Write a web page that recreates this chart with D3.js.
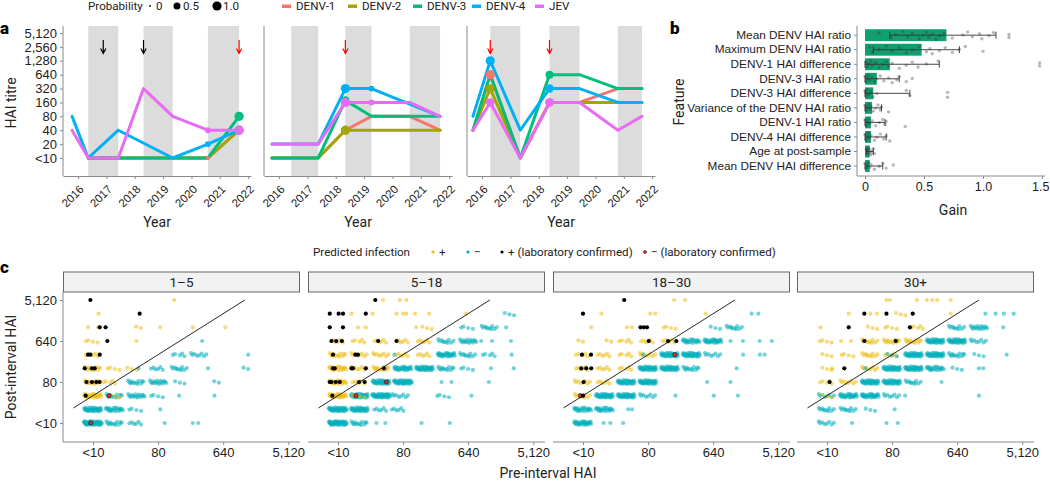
<!DOCTYPE html>
<html>
<head>
<meta charset="utf-8">
<script src="https://cdn.jsdelivr.net/npm/d3@7"></script>
<style>
  body { margin: 0; background: #fff; }
  svg { font-family: Roboto, "Liberation Sans", Arial, sans-serif; }
</style>
</head>
<body>
<div id="chart"></div>
<script>
// ---------- data ----------
var serotypes = ["DENV-1", "DENV-2", "DENV-3", "DENV-4", "JEV"];
var serotypeColors = ["#F8766D", "#A3A500", "#00BF7D", "#00B0F6", "#E76BF3"];
var titreLabels = ["<10", "20", "40", "80", "160", "320", "640", "1,280", "2,560", "5,120"];
var years = [2016, 2017, 2018, 2019, 2020, 2021, 2022];

// panel a: sample dates for three participants
var sampleTimes = [
  [2015.79, 2016.36, 2017.42, 2018.31, 2019.34, 2020.58, 2021.68],
  [2015.75, 2016.43, 2017.38, 2018.34, 2019.26, 2020.61, 2021.68],
  [2015.68, 2016.29, 2017.35, 2018.38, 2019.44, 2020.79, 2021.64]
];
// titre level (0 = <10, 1 = 20, ... 9 = 5,120) per serotype, null = not measured
var titresP1 = [
  [null, 0, 0, 0, 0, 0, 2],
  [null, 0, 0, 0, 0, 0, 2],
  [null, 0, 0, 0, 0, 0, 3],
  [3, 0, 2, null, 0, 1, 2],
  [2, 0, 0, 5, 3, 2, 2]
];
var titresP2 = [
  [0, 0, 0, 2, 3, 3, 2],
  [0, 0, 0, 2, 2, 2, 2],
  [0, 0, 0, 4.15, 3, 3, 3],
  [1, 1, 1, 5, 5, null, 3],
  [1, 1, 1, 4, 4, 4, 3]
];
var titresP3 = [
  [2, 6, 0, 4, 4, 5, 5],
  [2, 5, 0, 4, 4, 4, 4],
  [2, 6, 0, 6, 6, 5, 5],
  [3, 7, 2, 5, 5, 4, 4],
  [2, 4, 0, 4, 4, 2, 3]
];
var titres = [titresP1, titresP2, titresP3];
var infectionBands = [
  [[2016.36, 2017.42], [2018.31, 2019.34], [2020.58, 2021.68]],
  [[2016.43, 2017.38], [2018.34, 2019.26], [2020.61, 2021.68]],
  [[2016.29, 2017.35], [2018.38, 2019.44], [2020.79, 2021.64]]
];
// [participant, serotype, sample, probability]
var infectionProb = [
  [0, 0, 5, 0.1], [0, 3, 5, 0.3], [0, 4, 5, 0.3],
  [0, 1, 6, 0.6], [0, 2, 6, 1.0], [0, 3, 6, 1.0], [0, 4, 6, 1.0],
  [1, 0, 3, 0.8], [1, 1, 3, 1.0], [1, 2, 3, 0.7], [1, 3, 3, 1.0], [1, 4, 3, 1.0],
  [1, 3, 4, 0.3], [1, 4, 4, 0.3],
  [2, 2, 1, 0.8], [2, 1, 1, 0.9], [2, 0, 1, 1.0], [2, 3, 1, 1.0], [2, 4, 1, 0.8],
  [2, 0, 3, 0.6], [2, 2, 3, 0.7], [2, 3, 3, 0.8], [2, 4, 3, 0.9]
];
// [participant, date, laboratory confirmed]
var infectionArrows = [
  [0, 2016.89, false], [0, 2018.31, false], [0, 2021.68, true],
  [1, 2018.34, true],
  [2, 2016.29, true], [2, 2018.38, true]
];

// panel b: feature importance
var features = ["Mean DENV HAI ratio", "Maximum DENV HAI ratio", "DENV-1 HAI difference",
  "DENV-3 HAI ratio", "DENV-3 HAI difference", "Variance of the DENV HAI ratio",
  "DENV-1 HAI ratio", "DENV-4 HAI difference", "Age at post-sample", "Mean DENV HAI difference"];
var meanGain = [0.69, 0.48, 0.21, 0.10, 0.07, 0.06, 0.05, 0.05, 0.04, 0.04];
var gainLow = [0.21, 0.07, 0.0, 0.0, 0.0, 0.0, 0.0, 0.0, 0.01, 0.0];
var gainHigh = [1.11, 0.80, 0.63, 0.29, 0.38, 0.14, 0.17, 0.18, 0.07, 0.15];
var gainRuns = [
  [0.12, 0.22, 0.26, 0.32, 0.36, 0.40, 0.46, 0.49, 0.52, 0.54, 0.57, 0.60, 0.63, 0.67, 0.74, 0.83, 0.87, 0.91, 0.97, 0.99, 1.05, 1.09, 1.22, 1.22],
  [0.04, 0.06, 0.12, 0.18, 0.23, 0.29, 0.35, 0.40, 0.46, 0.52, 0.55, 0.57, 0.63, 0.68, 0.74, 0.80, 0.85, 1.0],
  [0.01, 0.02, 0.03, 0.05, 0.06, 0.09, 0.12, 0.15, 0.18, 0.20, 0.23, 0.29, 0.35, 0.40, 0.45, 0.52, 0.62, 1.48, 1.48],
  [0.0, 0.01, 0.02, 0.03, 0.04, 0.06, 0.08, 0.10, 0.13, 0.16, 0.20, 0.23, 0.27, 0.29, 0.35, 0.40],
  [0.0, 0.01, 0.01, 0.02, 0.03, 0.05, 0.07, 0.10, 0.35, 0.38, 0.70, 0.70],
  [0.0, 0.01, 0.02, 0.03, 0.04, 0.05, 0.07, 0.09, 0.11, 0.13, 0.14, 0.20],
  [0.0, 0.01, 0.02, 0.03, 0.04, 0.06, 0.09, 0.12, 0.15, 0.17, 0.18, 0.34],
  [0.0, 0.01, 0.02, 0.03, 0.04, 0.05, 0.08, 0.10, 0.13, 0.16, 0.18, 0.21],
  [0.01, 0.02, 0.02, 0.03, 0.04, 0.04, 0.05, 0.06, 0.07, 0.08],
  [0.0, 0.01, 0.02, 0.03, 0.04, 0.05, 0.08, 0.12, 0.15, 0.18, 0.24]
];

// panel c: pre/post HAI by age group
// [pre level, post level, count, class] class: 0 = +, 1 = -, 2 = + lab, 3 = - lab
var ageGroups = ["1\u20135", "5\u201318", "18\u201330", "30+"];
var haiTickLevels = [0, 3, 6, 9];
var haiTickLabels = ["<10", "80", "640", "5,120"];
var classLabels = ["+", "\u2212", "+ (laboratory confirmed)", "\u2212 (laboratory confirmed)"];
var classColors = ["#EDBD14", "#00AFBB", "#000000", "#D7301F"];

var age1to5 = [
  [0,0,40,1],[1,0,12,1],[2,0,6,1],[3.3,0,1,1],[4.6,0,1,1],[4.85,0,1,1],
  [0,1,30,1],[1,1,20,1],[2,1,4,1],[3.1,1,1,1],
  [0,2,25,0],[1,2,12,1],[1,2,3,0],[2,2,15,1],[3,2,4,1],[3.97,2,1,1],[5.6,2,1,1],
  [0,3,12,0],[0.8,3,5,0],[2,3,12,1],[3,3,15,1],[4,3,3,1],[5.8,3,2,1],
  [0,4,12,0],[1,4,4,0],[1.8,4,3,0],[2.1,4,1,1],[3,4,6,1],[4,4,10,1],[5.3,4,1,1],[7.15,4,2,1],
  [0,5,5,0],[4,5,5,1],[4.9,5,8,1],[7.15,5,1,1],
  [0,6,4,0],[2.0,6,1,0],[5.03,6,1,1],
  [-0.23,7,1,0],[0.23,7,1,0],[2.2,7,2,0],[3.1,7,1,0],[4.6,7,1,0],[6.1,7,1,0],
  [0.26,8,1,0],
  [3.74,9,1,0],
  [-0.1,0,1,3],[0.74,2,1,3],
  [-0.34,2,1,2],[-0.3,3,1,2],[-0.05,3,1,2],[0.15,3,1,2],[0.3,3,1,2],
  [-0.38,4,1,2],[-0.05,4,1,2],[0.08,4,1,2],
  [-0.23,5,1,2],[-0.12,5,1,2],[0.31,5,1,2],
  [0.66,6,1,2],[0.31,7,1,2],[0.58,7,1,2],[2.15,8,1,2],[-0.12,9,1,2]
];
var age5to18 = [
  [0,0,40,1],[1,0,12,1],[1.77,0,1,1],[2.18,0,1,1],[3.85,0,1,1],[5.15,0,1,1],
  [0,1,35,1],[1,1,30,1],[2,1,6,1],[2.8,1,6,1],
  [0,2,25,0],[1,2,30,1],[1,2,4,0],[2,2,35,1],[2.9,2,8,1],[4.9,2,4,1],[6.15,2,1,1],
  [0,3,20,0],[1,3,6,0],[2,3,30,1],[3,3,35,1],[4.77,3,1,1],[5.23,3,1,1],[6.95,3,1,1],
  [0,4,20,0],[1,4,8,0],[2,4,12,0],[3,4,25,1],[4,4,30,1],[5,4,12,1],[6,4,4,1],[7.05,4,1,1],[8.1,4,1,1],
  [0,5,12,0],[1,5,8,0],[2,5,8,0],[3,5,6,0],[2.6,5,1,1],[4,5,6,0],[5,5,25,1],[6,5,10,1],[7,5,5,1],[8,5,1,1],
  [0,6,6,0],[1,6,5,0],[2,6,6,0],[3,6,6,0],[4,6,6,0],[5,6,10,1],[6,6,15,1],[6.6,6,1,1],[7.1,6,1,1],[7.97,6,1,1],
  [0.92,7,1,0],[1.28,7,1,0],[3.6,7,1,0],[4.1,7,3,0],[6,7,4,1],[7,7,10,1],[7.75,7,1,1],
  [0.62,8,1,0],[1.6,8,1,0],[2.7,8,1,0],[3.0,8,1,0],[3.15,8,1,0],[3.55,8,1,0],[4.2,8,1,0],[5.9,8,1,0],[7.9,8,3,1],
  [2.08,9,1,0],[2.85,9,1,0],[3.15,9,1,0],
  [0.82,2,1,3],[2.23,3,1,3],
  [-0.26,2,1,2],[-0.38,3,1,2],[-0.3,3,1,2],[-0.1,3,1,2],[0.08,3,1,2],[0.97,3,1,2],[1.23,3,1,2],
  [-0.23,4,1,2],[-0.15,4,1,2],[0.62,4,1,2],[0.69,4,1,2],[1.28,4,1,2],[2.12,4,1,2],
  [-0.23,5,1,2],[0.8,5,1,2],[0.92,5,1,2],
  [-0.3,6,1,2],[-0.08,6,1,2],[0.18,6,1,2],[1.85,6,1,2],[2.7,6,1,2],
  [-0.38,7,1,2],[0.23,7,1,2],
  [-0.38,8,1,2],[0.03,8,1,2],[0.23,8,1,2],[1.28,8,1,2],
  [1.72,9,1,2]
];
var age18to30 = [
  [0,0,25,1],[0.95,0,1,1],[1.26,0,1,1],[1.85,0,1,1],
  [0,1,20,1],[1,1,20,1],[2.08,1,1,1],[2.26,1,1,1],
  [0,2,10,0],[1,2,30,1],[2,2,30,1],[3,2,8,1],[4.26,2,1,1],[6.03,2,1,1],[7.14,2,1,1],
  [0,3,8,0],[1,3,6,0],[2,3,30,1],[3,3,30,1],[5.72,3,1,1],[6.8,3,1,1],
  [0,4,6,0],[1,4,6,0],[2,4,5,0],[3,4,30,1],[4,4,30,1],[5,4,12,1],[7.08,4,1,1],
  [0,5,5,0],[1,5,6,0],[2,5,5,0],[3,5,8,0],[2.77,5,1,1],[4,5,30,1],[5,5,30,1],[6,5,8,1],[7.38,5,1,1],[8.15,5,1,1],[8.37,5,1,1],
  [0,6,2,0],[1.3,6,2,0],[2,6,5,0],[3,6,6,0],[4,6,6,0],[5,6,20,1],[6,6,25,1],[6.8,6,1,1],[7.37,6,1,1],[8.14,6,1,1],[8.7,6,1,1],
  [0.38,7,1,0],[2.03,7,1,0],[2.26,7,1,0],[4.05,7,4,0],[6.1,7,3,1],[7,7,10,1],
  [0.85,8,1,0],[3.1,8,1,0],[3.33,8,1,0],[5.65,8,1,0],[7.77,8,1,1],[8.08,8,1,1],
  [4.2,9,1,0],[4.7,9,1,0],
  [-0.12,2,1,3],[4.23,5,1,3],
  [0,2,1,2],[0.03,3,1,2],[-0.08,4,1,2],[0.15,4,1,2],[0.38,4,1,2],
  [-0.05,5,1,2],[0.37,5,1,2],[3.03,6,1,2],[3.92,6,1,2],[4.3,6,1,2],
  [2.65,7,1,2],[2.8,7,1,2],[2.95,7,1,2],[0,8,1,2],[1.9,9,1,2]
];
var age30plus = [
  [0,0,8,1],[1.15,0,1,1],[2.74,0,1,1],[3.26,0,1,1],
  [0,1,10,1],[1,1,10,1],[2,1,3,1],[3.12,1,1,1],
  [0,2,8,1],[0,2,3,0],[1,2,25,1],[2,2,25,1],[3,2,8,1],[3.6,2,1,1],[7.0,2,1,1],
  [0,3,5,0],[1,3,8,0],[2,3,30,1],[3,3,30,1],[4,3,10,1],[5.28,3,1,1],
  [0,4,3,0],[0.23,4,1,0],[2,4,8,0],[1.77,4,1,1],[3,4,30,1],[4,4,30,1],[5,4,20,1],[6,4,3,1],[7.0,4,1,1],[7.2,4,1,1],
  [0,5,3,0],[1,5,4,0],[2,5,10,0],[3,5,6,0],[3,5,3,1],[4,5,30,1],[5,5,30,1],[6,5,12,1],[7,5,3,1],[8.28,5,1,1],
  [0,6,4,0],[0.65,6,1,0],[1.1,6,1,0],[2,6,10,0],[3,6,12,0],[4,6,12,0],[5,6,30,1],[6,6,30,1],[7,6,8,1],
  [-0.3,7,1,0],[2.1,7,3,0],[3,7,4,0],[4.2,7,5,0],[6,7,10,1],[7,7,15,1],[8.12,7,1,1],
  [1.0,8,1,0],[2.0,8,1,0],[2.3,8,1,0],[3.4,8,3,0],[5.7,8,1,0],[7.3,8,1,1],[7.77,8,1,1],[8.15,8,1,1],[8.6,8,1,1],
  [2.74,9,1,0],[2.9,9,1,0],[4.15,9,1,0],[4.6,9,1,0],[4.85,9,1,0],[5.08,9,1,0],[5.7,9,1,0],
  [0.12,3,1,2],[0.8,4,1,2],[1.72,6,1,2],[3.17,6,1,2],[1.0,7,1,2],[3.82,7,1,2],
  [1.72,8,1,2],[2.74,8,1,2],[3.95,8,1,2]
];
var ageClusters = [age1to5, age5to18, age18to30, age30plus];

// ---------- layout ----------
var svg = d3.select("#chart").append("svg")
  .attr("width", 1050)
  .attr("height", 482);

var axisGrey = "#8a8a8a";
var textCol = "#222";

function panelLabel(x, y, t) {
  svg.append("text").attr("x", x).attr("y", y).text(t)
    .style("font-size", "17px").style("font-weight", "900").attr("fill", "#000");
}

// ===== panel a =====
var aFacetX = [63, 264, 467];
var aFacetW = 188;
var aTop = 26, aBottom = 176;
var yA = d3.scaleLinear().domain([0, 9]).range([158, 33]);
var rProb = d3.scaleSqrt().domain([0, 1]).range([0.9, 4.6]);

aFacetX.forEach(function(x0, p) {
  var g = svg.append("g").attr("transform", `translate(${x0},0)`);
  var xA = d3.scaleLinear().domain([2015.47, 2022.1]).range([0, aFacetW]);

  g.selectAll("rect.band")
    .data(infectionBands[p])
    .enter()
    .append("rect")
    .attr("x", d => xA(d[0]))
    .attr("width", d => xA(d[1]) - xA(d[0]))
    .attr("y", aTop)
    .attr("height", aBottom - aTop)
    .attr("fill", "#dcdcdc");

  // axes
  var xg = g.append("g")
    .attr("transform", `translate(0,${aBottom})`)
    .call(d3.axisBottom(xA).tickValues(years).tickFormat(d3.format("d")).tickSize(3).tickSizeOuter(0));
  xg.select(".domain").attr("stroke", axisGrey);
  xg.selectAll(".tick line").attr("stroke", axisGrey);
  xg.selectAll(".tick text")
    .attr("x", 0).attr("y", 0).attr("dy", 0)
    .attr("transform", "translate(6,14) rotate(-45)")
    .style("text-anchor", "end")
    .style("font-size", "11.5px")
    .attr("fill", textCol);

  g.append("line")
    .attr("x1", 0).attr("x2", 0)
    .attr("y1", aTop).attr("y2", aBottom)
    .attr("stroke", axisGrey);

  if (p === 0) {
    var yg = g.append("g")
      .call(d3.axisLeft(yA).tickValues(d3.range(10)).tickFormat(i => titreLabels[i]).tickSize(3));
    yg.select(".domain").remove();
    yg.selectAll(".tick line").attr("stroke", axisGrey);
    yg.selectAll(".tick text").style("font-size", "13px").attr("fill", textCol);
  }

  g.append("text")
    .attr("x", aFacetW / 2).attr("y", 227)
    .attr("text-anchor", "middle")
    .style("font-size", "14px")
    .attr("fill", textCol)
    .text("Year");

  // titre lines
  var line = d3.line().x(d => xA(d[0])).y(d => yA(d[1]));
  titres[p].forEach(function(vals, s) {
    var pts = sampleTimes[p].map((t, i) => [t, vals[i]]).filter(d => d[1] !== null);
    g.append("path")
      .datum(pts)
      .attr("d", line)
      .attr("fill", "none")
      .attr("stroke", serotypeColors[s])
      .attr("stroke-width", 3)
      .attr("stroke-linejoin", "round")
      .attr("stroke-linecap", "round");
  });

  // infection probability dots
  g.selectAll("circle.prob")
    .data(infectionProb.filter(d => d[0] === p))
    .enter()
    .append("circle")
    .attr("cx", d => xA(sampleTimes[p][d[2]]))
    .attr("cy", d => yA(titres[p][d[1]][d[2]]))
    .attr("r", d => rProb(d[3]))
    .attr("fill", d => serotypeColors[d[1]]);

  // arrows
  infectionArrows.filter(d => d[0] === p).forEach(function(d) {
    var x = xA(d[1]);
    var col = d[2] ? "#ff0000" : "#000";
    g.append("path")
      .attr("d", `M${x},40V53M${x - 2.6},48.5L${x},53.5L${x + 2.6},48.5`)
      .attr("fill", "none")
      .attr("stroke", col)
      .attr("stroke-width", 1.2);
  });
});

svg.append("text")
  .attr("transform", "translate(16,103) rotate(-90)")
  .attr("text-anchor", "middle")
  .style("font-size", "14px")
  .attr("fill", textCol)
  .text("HAI titre");
panelLabel(0, 34, "a");

// top legend: probability size
var legY = 6;
var legFont = "11.6px";
svg.append("text").attr("x", 88).attr("y", legY + 4.2)
  .style("font-size", legFont).attr("fill", textCol).text("Probability");
var probKeys = [0, 0.5, 1.0];
var probKeyX = [150, 177, 217];
probKeys.forEach(function(v, i) {
  svg.append("circle").attr("cx", probKeyX[i]).attr("cy", legY).attr("r", rProb(v)).attr("fill", "#000");
  svg.append("text").attr("x", probKeyX[i] + 6).attr("y", legY + 4.2)
    .style("font-size", legFont).attr("fill", textCol).text(i === 0 ? "0" : d3.format(".1f")(v));
});
// top legend: serotype colour
var seroKeyX = [282, 348, 413, 472, 535];
serotypes.forEach(function(s, i) {
  svg.append("rect").attr("x", seroKeyX[i]).attr("y", legY - 1.5).attr("width", 9).attr("height", 3.5)
    .attr("fill", serotypeColors[i]);
  svg.append("text").attr("x", seroKeyX[i] + 14).attr("y", legY + 4.2)
    .style("font-size", legFont).attr("fill", textCol).text(s);
});

// ===== panel b =====
var bX = d3.scaleLinear().domain([0, 1.5]).range([865, 1042]);
var bY = d3.scaleBand().domain(features).range([26.6, 174.6]).padding(0.18);
var bAxisX = 857;

svg.selectAll("rect.gain")
  .data(features)
  .enter()
  .append("rect")
  .attr("x", bX(0))
  .attr("y", d => bY(d))
  .attr("width", (d, i) => bX(meanGain[i]) - bX(0))
  .attr("height", bY.bandwidth())
  .attr("fill", "#10a070");

gainRuns.forEach(function(vals, i) {
  var cy = bY(features[i]) + bY.bandwidth() / 2;
  svg.selectAll(null)
    .data(vals)
    .enter()
    .append("circle")
    .attr("cx", d => bX(d))
    .attr("cy", (d, j) => cy + (((j * 0.618034 + 0.2) % 1) - 0.5) * 8)
    .attr("r", 1.7)
    .attr("fill", "#333")
    .attr("fill-opacity", 0.35);
  var hi = bX(gainHigh[i]), lo = bX(gainLow[i]);
  svg.append("path")
    .attr("d", `M${lo},${cy}H${hi}M${lo},${cy - 3.5}V${cy + 3.5}M${hi},${cy - 3.5}V${cy + 3.5}`)
    .attr("stroke", "#333")
    .attr("stroke-width", 0.9)
    .attr("fill", "none");
});

var bxg = svg.append("g")
  .attr("transform", `translate(0,${aBottom})`)
  .call(d3.axisBottom(bX).tickValues([0, 0.5, 1, 1.5]).tickFormat(d => d === 0 ? "0" : d3.format(".1f")(d)).tickSize(3).tickSizeOuter(0));
bxg.select(".domain").remove();
bxg.selectAll(".tick line").attr("stroke", axisGrey);
bxg.selectAll(".tick text").style("font-size", "12.5px").attr("fill", textCol);
// keep the last label inside the page
bxg.selectAll(".tick text").filter(d => d === 1.5).style("text-anchor", "end").attr("x", 7);
svg.append("line").attr("x1", bAxisX).attr("x2", 1045).attr("y1", aBottom).attr("y2", aBottom).attr("stroke", axisGrey);

var byg = svg.append("g")
  .attr("transform", `translate(${bAxisX},0)`)
  .call(d3.axisLeft(bY).tickSize(3));
byg.select(".domain").remove();
byg.selectAll(".tick line").attr("stroke", axisGrey);
byg.selectAll(".tick text").style("font-size", "11.8px").attr("fill", textCol);
svg.append("line").attr("x1", bAxisX).attr("x2", bAxisX).attr("y1", aTop).attr("y2", aBottom).attr("stroke", axisGrey);

svg.append("text").attr("x", 953).attr("y", 215).attr("text-anchor", "middle")
  .style("font-size", "14px").attr("fill", textCol).text("Gain");
svg.append("text").attr("transform", "translate(684,102) rotate(-90)").attr("text-anchor", "middle")
  .style("font-size", "14px").attr("fill", textCol).text("Feature");
panelLabel(670, 34, "b");

// ===== panel c =====
var cFacetX = [63, 308, 553, 797];
var cFacetW = 237;
var cStripTop = 272, cStripH = 20, cBottom = 442;
var cY = d3.scaleLinear().domain([0, 9]).range([423, 300]);
var cX = d3.scaleLinear().domain([-30 / 21.7, (cFacetW - 30) / 21.7]).range([0, cFacetW]);

// even spread of a cluster's points over its jitter box (radical inverse)
function radicalInverse(i, b) {
  var f = 1, r = 0;
  while (i > 0) { f /= b; r += f * (i % b); i = Math.floor(i / b); }
  return r;
}
function spreadX(i, n) { return n > 1 ? radicalInverse(i + 1, 2) - 0.5 : 0; }
function spreadY(i, n) { return n > 1 ? radicalInverse(i + 1, 3) - 0.5 : 0; }

cFacetX.forEach(function(x0, f) {
  var g = svg.append("g").attr("transform", `translate(${x0},0)`);

  g.append("rect")
    .attr("x", 0.5).attr("y", cStripTop)
    .attr("width", cFacetW - 1).attr("height", cStripH)
    .attr("fill", "#f2f2f2").attr("stroke", "#555").attr("stroke-width", 0.9);
  g.append("text")
    .attr("x", cFacetW / 2).attr("y", cStripTop + 15)
    .attr("text-anchor", "middle")
    .style("font-size", "13.5px")
    .attr("fill", textCol)
    .text(ageGroups[f]);

  // expand clusters into points
  var pts = [];
  ageClusters[f].forEach(function(c) {
    for (var i = 0; i < c[2]; i++) {
      pts.push({
        x: c[0] + spreadX(i, c[2]) * 0.86,
        y: c[1] + spreadY(i, c[2]) * 0.3,
        k: c[3]
      });
    }
  });
  pts.sort((a, b) => (a.k >= 2) - (b.k >= 2));

  g.selectAll("circle.pt")
    .data(pts)
    .enter()
    .append("circle")
    .attr("cx", d => cX(d.x))
    .attr("cy", d => cY(d.y))
    .attr("r", 2.1)
    .attr("fill", d => classColors[d.k])
    .attr("fill-opacity", d => d.k >= 2 ? 1 : 0.55)
    .attr("stroke", d => d.k === 3 ? "#000" : "none")
    .attr("stroke-width", 0.5);

  // 4-fold rise line
  var diag = [-0.9, 7.0];
  g.append("line")
    .attr("x1", cX(diag[0])).attr("y1", cY(diag[0] + 2))
    .attr("x2", cX(diag[1])).attr("y2", cY(diag[1] + 2))
    .attr("stroke", "#111").attr("stroke-width", 0.9);

  var xg = g.append("g")
    .attr("transform", `translate(0,${cBottom})`)
    .call(d3.axisBottom(cX).tickValues(haiTickLevels).tickFormat((d, i) => haiTickLabels[i]).tickSize(3).tickSizeOuter(0));
  xg.select(".domain").remove();
  xg.selectAll(".tick line").attr("stroke", axisGrey);
  xg.selectAll(".tick text").style("font-size", "13px").attr("fill", textCol);
  g.append("line").attr("x1", 0).attr("x2", cFacetW).attr("y1", cBottom).attr("y2", cBottom).attr("stroke", axisGrey);

  if (f === 0) {
    var yg = g.append("g")
      .call(d3.axisLeft(cY).tickValues(haiTickLevels).tickFormat((d, i) => haiTickLabels[i]).tickSize(3));
    yg.select(".domain").remove();
    yg.selectAll(".tick line").attr("stroke", axisGrey);
    yg.selectAll(".tick text").style("font-size", "13px").attr("fill", textCol);
    g.append("line").attr("x1", 0).attr("x2", 0).attr("y1", cStripTop + cStripH).attr("y2", cBottom).attr("stroke", axisGrey);
  }
});

svg.append("text").attr("transform", "translate(16,367) rotate(-90)").attr("text-anchor", "middle")
  .style("font-size", "14px").attr("fill", textCol).text("Post-interval HAI");
svg.append("text").attr("x", 548).attr("y", 478).attr("text-anchor", "middle")
  .style("font-size", "14px").attr("fill", textCol).text("Pre-interval HAI");
panelLabel(0, 273, "c");

// legend c
var cLegY = 252;
svg.append("text").attr("x", 313).attr("y", cLegY + 4.2)
  .style("font-size", legFont).attr("fill", textCol).text("Predicted infection");
var clsDotX = [433, 468, 502, 645];
classLabels.forEach(function(l, i) {
  svg.append("circle").attr("cx", clsDotX[i]).attr("cy", cLegY).attr("r", 1.6)
    .attr("fill", classColors[i]).attr("stroke", i === 3 ? "#000" : "none").attr("stroke-width", 0.4);
  svg.append("text").attr("x", clsDotX[i] + 6).attr("y", cLegY + 4.2)
    .style("font-size", legFont).attr("fill", textCol).text(l);
});
</script>
</body>
</html>
